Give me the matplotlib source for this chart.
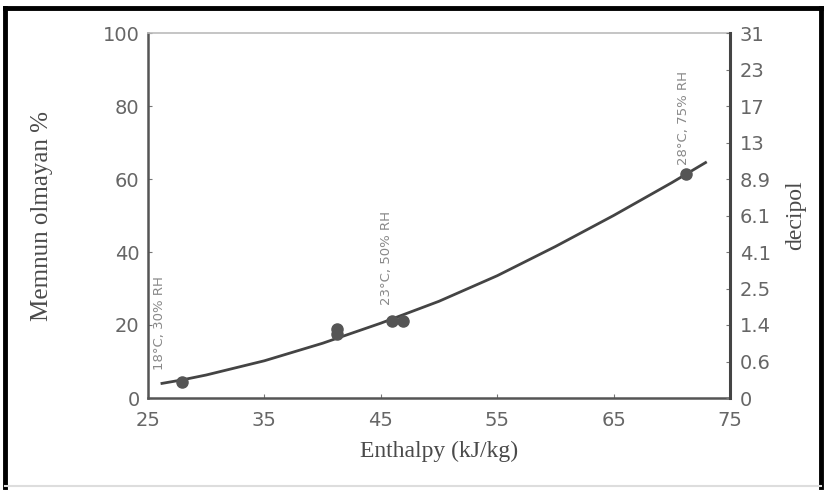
import matplotlib
matplotlib.use("Agg")
from matplotlib import pyplot as plt
from matplotlib.lines import Line2D

# fitted curve
curve_x = [26.2, 28, 30, 35, 40, 45, 50, 55, 60, 65, 70, 72.9]
curve_y = [4.0, 5.0, 6.3, 10.2, 15.0, 20.5, 26.5, 33.5, 41.5, 50.0, 59.0, 64.5]

# measured points
pts_x = [27.9, 41.2, 41.2, 46.0, 46.9, 71.2]
pts_y = [4.5, 17.5, 19.0, 21.2, 21.2, 61.5]

# condition labels
cond_labels = ["18°C, 30% RH", "23°C, 50% RH", "28°C, 75% RH"]
cond_x = [26.0, 45.5, 71.0]
cond_y = [7.7, 25.5, 63.8]

left_ticks = [0, 20, 40, 60, 80, 100]
x_ticks = [25, 35, 45, 55, 65, 75]
right_pos = [0, 10, 20, 30, 40, 50, 60, 70, 80, 90, 100]
right_labels = ["0", "0.6", "1.4", "2.5", "4.1", "6.1", "8.9", "13", "17", "23", "31"]

tick_col = "#666666"
lab_col = "#4a4a4a"

fig = plt.figure(figsize=(8.26, 4.92), dpi=100)
ax = fig.add_axes([148/826, 1-398/492, (730-148)/826, (398-33)/492])

ax.plot(curve_x, curve_y, color="#444444", lw=2)
ax.plot(pts_x, pts_y, "o", color="#555555", ms=8)

for t, x, y in zip(cond_labels, cond_x, cond_y):
    ax.text(x, y, t, rotation=90, ha="center", va="bottom",
            fontsize=9.5, color="#888888")

ax.set_xlim(25, 75)
ax.set_ylim(0, 100)
ax.set_xticks(x_ticks)
ax.set_yticks(left_ticks)
ax.tick_params(direction="in", length=3, labelsize=14, labelcolor=tick_col,
               colors="#777777")
ax.tick_params(axis="x", pad=9)
ax.tick_params(axis="y", pad=6)

for s in ["left", "bottom"]:
    ax.spines[s].set_color("#555555")
    ax.spines[s].set_linewidth(1.8)
ax.spines["top"].set_color("#bbbbbb")
ax.spines["top"].set_linewidth(1.2)
ax.spines["right"].set_visible(False)

ax2 = ax.twinx()
ax2.set_ylim(0, 100)
ax2.set_yticks(right_pos)
ax2.set_yticklabels(right_labels)
ax2.tick_params(direction="in", length=3, labelsize=14, labelcolor=tick_col,
                colors="#777777", pad=7)
for s in ["left", "bottom", "top"]:
    ax2.spines[s].set_visible(False)
ax2.spines["right"].set_color("#444444")
ax2.spines["right"].set_linewidth(2.2)

serif = ["Liberation Serif", "DejaVu Serif"]
ax.set_xlabel("Enthalpy (kJ/kg)", family=serif, fontsize=17, color=lab_col,
              labelpad=8)
ax.set_ylabel("Memnun olmayan %", family=serif, fontsize=18, color=lab_col,
              labelpad=36)
ax2.set_ylabel("decipol", family=serif, fontsize=17, color=lab_col,
               labelpad=10)

# outer frame
fig.add_artist(Line2D([5/826, 5/826], [0.01, 1-8/492], color="black", lw=3.5,
                      transform=fig.transFigure))
fig.add_artist(Line2D([5/826, 821/826], [1-8/492, 1-8/492], color="black", lw=3.5,
                      transform=fig.transFigure))
fig.add_artist(Line2D([821/826, 821/826], [0.01, 1-8/492], color="black", lw=3.5,
                      transform=fig.transFigure))
fig.add_artist(Line2D([5/826, 821/826], [0.012, 0.012], color="#dddddd", lw=1.5,
                      transform=fig.transFigure))

fig.savefig("out.png", dpi=100)
